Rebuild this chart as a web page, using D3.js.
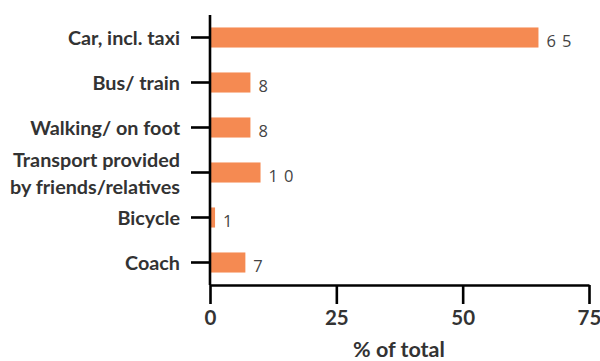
<!DOCTYPE html>
<html>
<head>
<meta charset="utf-8">
<script src="https://cdn.jsdelivr.net/npm/d3@7/dist/d3.min.js"></script>
<style>
  html, body { margin: 0; padding: 0; background: #fff; }
  svg { display: block; }
</style>
</head>
<body>
<svg id="chart" width="600" height="361"></svg>
<script>
// Modes of transport and their share of the total (%)
const categories = [
  "Car, incl. taxi",
  "Bus/ train",
  "Walking/ on foot",
  "Transport provided\nby friends/relatives",
  "Bicycle",
  "Coach"
];
const values = [65, 8, 8, 10, 1, 7];
const xTicks = [0, 25, 50, 75];
const axisTitle = "% of total";

const data = categories.map((c, i) => ({ category: c, value: values[i] }));

const svg = d3.select("#chart");
const plotLeft = 210, plotRight = 589, plotTop = 15, plotBottom = 285;

const x = d3.scaleLinear().domain([0, 75]).range([plotLeft, plotRight]);
const y = d3.scaleBand().domain(categories).range([plotTop, plotBottom]).paddingInner(0.554).paddingOuter(0.277);

const textColor = "#333333";
const barColor = "#F58A52";
const font = "Lato, 'Open Sans', sans-serif";

// Bars
svg.append("g").selectAll("rect")
  .data(data)
  .join("rect")
  .attr("x", x(0))
  .attr("y", d => y(d.category))
  .attr("width", d => x(d.value) - x(0))
  .attr("height", y.bandwidth())
  .attr("fill", barColor);

// Value labels
svg.append("g").selectAll("text")
  .data(data)
  .join("text")
  .attr("x", d => x(d.value) + 8)
  .attr("y", d => y(d.category) + y.bandwidth() / 2 + 9.5)
  .attr("font-family", "'Open Sans', sans-serif")
  .attr("font-size", 16.5)
  .attr("letter-spacing", "6px")
  .attr("fill", "#444")
  .text(d => d.value);

// Y axis
const yAxis = svg.append("g")
  .attr("transform", `translate(${plotLeft},0)`)
  .call(d3.axisLeft(y).tickSize(19).tickPadding(11).tickFormat(""));
yAxis.select(".domain").attr("d", `M0,${plotTop}V${plotBottom}`).attr("stroke", "#000").attr("stroke-width", 2.6);
yAxis.selectAll(".tick line").attr("stroke", "#000").attr("stroke-width", 2.6);

// Category labels (multi-line where needed)
yAxis.selectAll(".tick").each(function(d) {
  const lines = d.split("\n");
  const t = d3.select(this).select("text")
    .attr("x", -30)
    .attr("dy", null)
    .attr("y", 0)
    .attr("font-family", font)
    .attr("font-size", 19.8)
    .attr("font-weight", 700)
    .attr("fill", textColor)
    .attr("text-anchor", "end");
  const lh = 27;
  const start = -(lines.length - 1) * lh / 2 + 7.5;
  lines.forEach((ln, i) => {
    t.append("tspan").attr("x", -30).attr("y", start + i * lh).text(ln);
  });
});

// X axis
const xAxis = svg.append("g")
  .attr("transform", `translate(0,${plotBottom})`)
  .call(d3.axisBottom(x).tickValues(xTicks).tickSize(19).tickPadding(6).tickSizeOuter(0));
xAxis.select(".domain").attr("stroke", "#000").attr("stroke-width", 2.6);
xAxis.selectAll(".tick line").attr("stroke", "#000").attr("stroke-width", 2.6);
xAxis.selectAll(".tick text")
  .attr("font-family", font)
  .attr("font-size", 20.5)
  .attr("font-weight", 700)
  .attr("fill", textColor);

// Axis title
svg.append("text")
  .attr("x", 399)
  .attr("y", 357)
  .attr("text-anchor", "middle")
  .attr("font-family", font)
  .attr("font-size", 21.5)
  .attr("font-weight", 700)
  .attr("fill", textColor)
  .text(axisTitle);
</script>
</body>
</html>
